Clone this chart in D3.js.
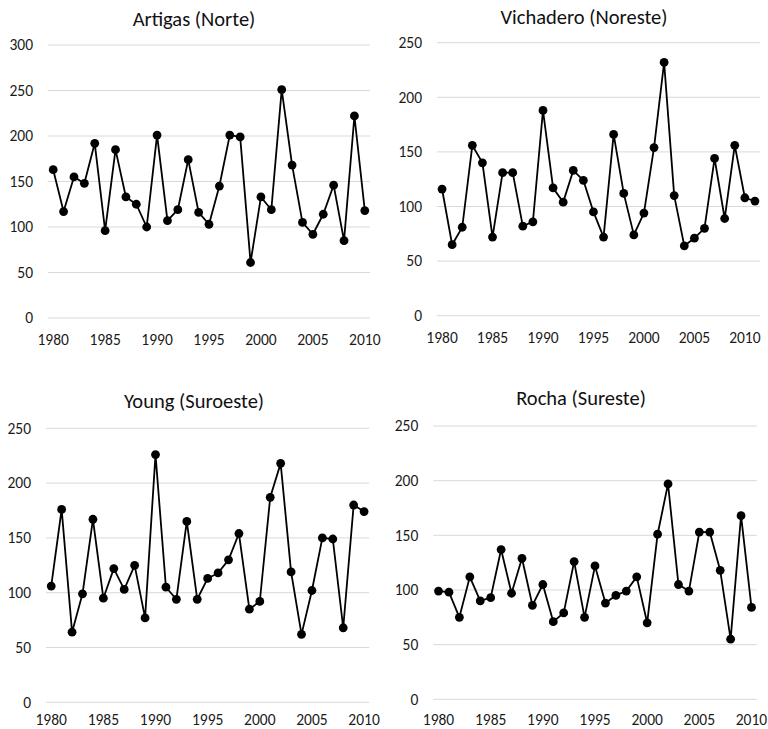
<!DOCTYPE html>
<html>
<head>
<meta charset="utf-8">
<script src="https://cdn.jsdelivr.net/npm/d3@7"></script>
<style>
  body { margin: 0; background: #fff; }
  svg { display: block; font-family: Carlito, Calibri, Lato, sans-serif; font-weight: 400; }
</style>
</head>
<body>
<div id="chart"></div>
<script>
// values
const years31 = d3.range(1980, 2011);
const years32 = d3.range(1980, 2012);
const xTickYears = [1980, 1985, 1990, 1995, 2000, 2005, 2010];

const artigas = [163, 117, 155, 148, 192, 96, 185, 133, 125, 100, 201, 107, 119, 174, 116, 103, 145, 201, 199, 61,
  133, 119, 251, 168, 105, 92, 114, 146, 85, 222, 118];
const vichadero = [116, 65, 81, 156, 140, 72, 131, 131, 82, 86, 188, 117, 104, 133, 124, 95, 72, 166, 112, 74,
  94, 154, 232, 110, 64, 71, 80, 144, 89, 156, 108, 105];
const young = [106, 176, 64, 99, 167, 95, 122, 103, 125, 77, 226, 105, 94, 165, 94, 113, 118, 130, 154, 85,
  92, 187, 218, 119, 62, 102, 150, 149, 68, 180, 174];
const rocha = [99, 98, 75, 112, 90, 93, 137, 97, 129, 86, 105, 71, 79, 126, 75, 122, 88, 95, 99, 112,
  70, 151, 197, 105, 99, 153, 153, 118, 55, 168, 84];

const ticksArtigas = [0, 50, 100, 150, 200, 250, 300];
const ticksOther = [0, 50, 100, 150, 200, 250];

const panels = [
  { title: "Artigas (Norte)", years: years31, values: artigas, ticks: ticksArtigas,
    x0: 48, x1: 370, yTop: 45, yBot: 318, titleX: 194, titleY: 26 },
  { title: "Vichadero (Noreste)", years: years32, values: vichadero, ticks: ticksOther,
    x0: 437, x1: 760, yTop: 42.7, yBot: 315.7, titleX: 584, titleY: 23.5 },
  { title: "Young (Suroeste)", years: years31, values: young, ticks: ticksOther,
    x0: 46, x1: 369.3, yTop: 428.3, yBot: 702.3, titleX: 194, titleY: 408 },
  { title: "Rocha (Sureste)", years: years31, values: rocha, ticks: ticksOther,
    x0: 433.3, x1: 756.7, yTop: 426, yBot: 699.3, titleX: 581, titleY: 405 }
];

const svg = d3.select("#chart").append("svg")
  .attr("width", 768)
  .attr("height", 729);

panels.forEach(p => {
  const g = svg.append("g");

  const x = d3.scaleBand()
    .domain(p.years)
    .range([p.x0, p.x1]);
  const y = d3.scaleLinear()
    .domain([0, d3.max(p.ticks)])
    .range([p.yBot, p.yTop]);
  const cx = d => x(d) + x.bandwidth() / 2;

  // gridlines
  g.selectAll("line.grid")
    .data(p.ticks)
    .join("line")
    .attr("x1", p.x0).attr("x2", p.x1)
    .attr("y1", d => y(d)).attr("y2", d => y(d))
    .attr("stroke", "#d9d9d9")
    .attr("stroke-width", 1);

  // y tick labels
  g.selectAll("text.ytick")
    .data(p.ticks)
    .join("text")
    .attr("x", p.x0 - 15)
    .attr("y", d => y(d))
    .attr("dy", "0.34em")
    .attr("text-anchor", "end")
    .attr("fill", "#1a1a1a")
    .style("font-size", "15.5px")
    .text(d => d);

  // x tick labels
  g.selectAll("text.xtick")
    .data(xTickYears)
    .join("text")
    .attr("x", d => cx(d))
    .attr("y", Math.min(p.yBot + 27, 725))
    .attr("text-anchor", "middle")
    .attr("fill", "#1a1a1a")
    .style("font-size", "15.5px")
    .text(d => d);

  // title
  g.append("text")
    .attr("x", p.titleX)
    .attr("y", p.titleY)
    .attr("text-anchor", "middle")
    .attr("fill", "#111")
    .style("font-size", "20.5px")
    .text(p.title);

  const pts = p.years.map((yr, i) => ({ yr, v: p.values[i] }));

  g.append("path")
    .datum(pts)
    .attr("fill", "none")
    .attr("stroke", "#000")
    .attr("stroke-width", 1.8)
    .attr("stroke-linejoin", "round")
    .attr("d", d3.line().x(d => cx(d.yr)).y(d => y(d.v)));

  g.selectAll("circle")
    .data(pts)
    .join("circle")
    .attr("cx", d => cx(d.yr))
    .attr("cy", d => y(d.v))
    .attr("r", 4.4)
    .attr("fill", "#000");
});
</script>
</body>
</html>
